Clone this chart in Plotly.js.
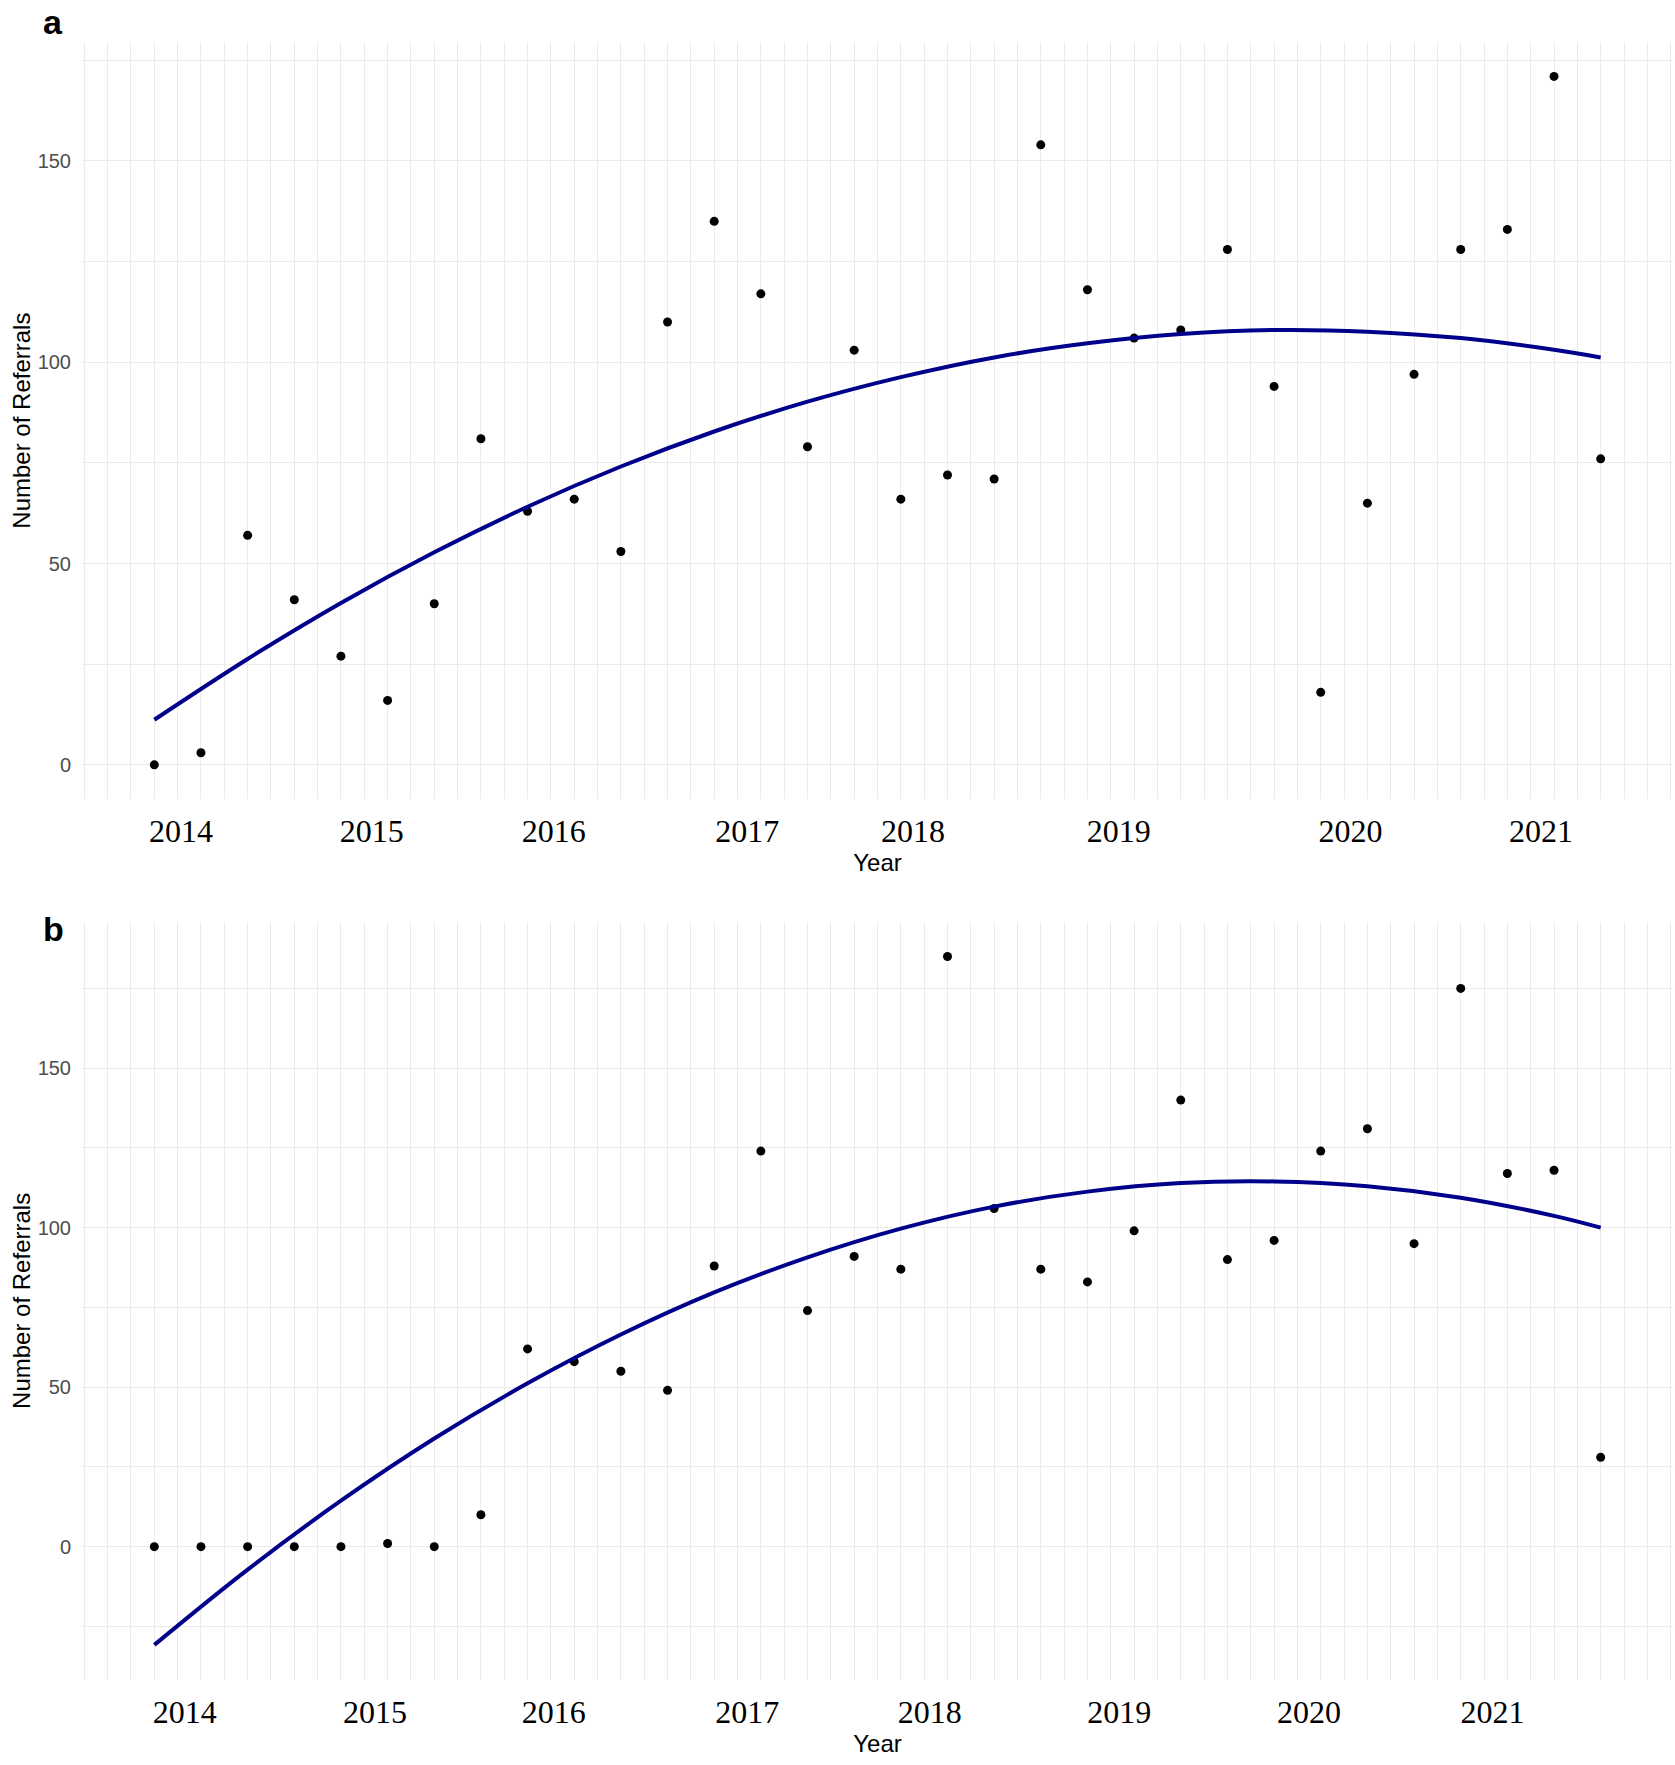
<!DOCTYPE html>
<html>
<head>
<meta charset="utf-8">
<script src="https://cdn.plot.ly/plotly-3.0.1.min.js"></script>
<style>
  html, body { margin: 0; padding: 0; background: #ffffff; }
  #chart { width: 1675px; height: 1765px; }
</style>
</head>
<body>
<div id="chart"></div>
<script>
// Quarter index (2014 Q1 ... 2021 Q4)
const quarter = [1, 2, 3, 4, 5, 6, 7, 8, 9, 10, 11, 12, 13, 14, 15, 16,
                 17, 18, 19, 20, 21, 22, 23, 24, 25, 26, 27, 28, 29, 30, 31, 32];

// Panel a: number of referrals per quarter
const referralsA = [0, 3, 57, 41, 27, 16, 40, 81, 63, 66, 53, 110, 135, 117, 79, 103,
                    66, 72, 71, 154, 118, 106, 108, 128, 94, 18, 65, 97, 128, 133, 171, 76];

// Panel b: number of referrals per quarter
const referralsB = [0, 0, 0, 0, 0, 1, 0, 10, 62, 58, 55, 49, 88, 124, 74, 91,
                    87, 185, 106, 87, 83, 99, 140, 90, 96, 124, 131, 95, 175, 117, 118, 28];

// Fitted trend curves
const fitQuarter = [1, 3, 5, 7, 9, 11, 13, 15, 17, 19, 21, 23, 25, 27, 29, 31, 32];
const fitA = [11.2, 26.3, 40.2, 52.8, 64.1, 74.1, 82.8, 90.2, 96.3, 101.2, 104.7, 107.0, 108.0, 107.6, 106.0, 103.1, 101.2];
const fitB = [-30.8, -7.2, 14.4, 33.9, 51.2, 66.5, 79.7, 90.7, 99.7, 106.6, 111.3, 114.0, 114.5, 113.0, 109.4, 103.7, 100.0];

// Year tick labels (hand-placed in the original)
const yearLabels = ['2014', '2015', '2016', '2017', '2018', '2019', '2020', '2021'];
const yearTickA = [1.57, 5.66, 9.56, 13.71, 17.26, 21.67, 26.64, 30.72];
const yearTickB = [1.65, 5.73, 9.56, 13.71, 17.62, 21.68, 25.75, 29.68];

const gridColor = '#EBEBEB';
const lineColor = '#00008B';

function pointTrace(y, xa, ya) {
  return {
    x: quarter, y: y, xaxis: xa, yaxis: ya,
    type: 'scatter', mode: 'markers',
    marker: { color: '#000000', size: 9 },
    hoverinfo: 'x+y', showlegend: false
  };
}
function fitTrace(y, xa, ya) {
  return {
    x: fitQuarter, y: y, xaxis: xa, yaxis: ya,
    type: 'scatter', mode: 'lines',
    line: { color: lineColor, width: 4, shape: 'spline', smoothing: 1 },
    hoverinfo: 'skip', showlegend: false
  };
}

const data = [
  pointTrace(referralsA, 'x', 'y'),
  fitTrace(fitA, 'x', 'y'),
  pointTrace(referralsB, 'x2', 'y2'),
  fitTrace(fitB, 'x2', 'y2')
];

function xAxis(tickvals, anchor) {
  return {
    anchor: anchor,
    range: [-0.55, 33.55],
    tickmode: 'array',
    tickvals: tickvals,
    ticktext: yearLabels,
    ticks: '',
    showgrid: false,
    zeroline: false,
    showline: false,
    ticklabelstandoff: 10,
    tickfont: { family: 'Liberation Serif, "Times New Roman", serif', size: 32, color: '#000000' },
    minor: { tickmode: 'linear', tick0: 0, dtick: 0.5, showgrid: true, gridcolor: gridColor, gridwidth: 1, ticks: '' },
    title: { text: 'Year', standoff: 0,
             font: { family: 'Liberation Sans, Arial, sans-serif', size: 24, color: '#000000' } },
    fixedrange: true
  };
}
function yAxis(range, domain, anchor) {
  return {
    anchor: anchor,
    domain: domain,
    range: range,
    tickmode: 'linear', tick0: 0, dtick: 50,
    ticks: '',
    showgrid: true, gridcolor: gridColor, gridwidth: 1,
    zeroline: false, showline: false,
    ticklabelstandoff: 10,
    tickfont: { family: 'Liberation Sans, Arial, sans-serif', size: 20, color: '#4D4D4D' },
    minor: { tickmode: 'linear', tick0: 0, dtick: 25, showgrid: true, gridcolor: gridColor, gridwidth: 1, ticks: '' },
    title: { text: 'Number of Referrals', standoff: 0,
             font: { family: 'Liberation Sans, Arial, sans-serif', size: 24, color: '#000000' } },
    fixedrange: true
  };
}

const layout = {
  width: 1675, height: 1765,
  margin: { l: 82, r: 2, t: 42, b: 85 },
  paper_bgcolor: '#ffffff',
  plot_bgcolor: '#ffffff',
  showlegend: false,
  xaxis: xAxis(yearTickA, 'y'),
  yaxis: yAxis([-8.55, 179.55], [0.5377, 1], 'x'),
  xaxis2: xAxis(yearTickB, 'y2'),
  yaxis2: yAxis([-41.8, 195.9], [0, 0.4629], 'x2'),
  annotations: [
    { text: '<b>a</b>', xref: 'paper', yref: 'paper', x: -0.0182, y: 1.0122,
      xanchor: 'center', yanchor: 'middle', showarrow: false,
      font: { family: 'Liberation Sans, Arial, sans-serif', size: 34, color: '#000000' } },
    { text: '<b>b</b>', xref: 'paper', yref: 'paper', x: -0.0176, y: 0.4585,
      xanchor: 'center', yanchor: 'middle', showarrow: false,
      font: { family: 'Liberation Sans, Arial, sans-serif', size: 34, color: '#000000' } }
  ]
};

Plotly.newPlot('chart', data, layout, { displayModeBar: false, staticPlot: true });
</script>
</body>
</html>
